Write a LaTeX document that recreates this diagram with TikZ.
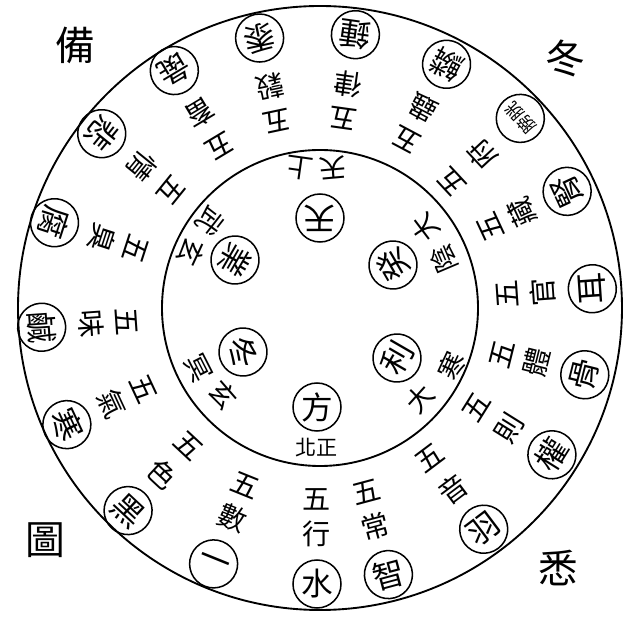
\documentclass[tikz,border=0pt]{standalone}
\usepackage{fontspec}
\newfontfamily\cjk{Noto Sans CJK TC}
\usetikzlibrary{positioning}

\begin{document}
\begin{tikzpicture}[
    x=0.03cm, y=0.03cm,
    ring/.style={line width=1.6pt},
    ch/.style={font=\cjk\fontsize{24}{24}\selectfont, inner sep=0pt},
    seal/.style={circle, draw, line width=1.3pt, minimum size=1.44cm, inner sep=0pt, font=\cjk\fontsize{27}{27}\selectfont},
    inch/.style={font=\cjk\fontsize{23}{23}\selectfont, inner sep=0pt},
    corner/.style={font=\cjk\fontsize{34}{34}\selectfont, inner sep=0pt}
]
\useasboundingbox (-320,-310) rectangle (310,308);

\draw[ring] (0,0) circle[radius=302];
\draw[ring] (0,0) circle[radius=158];

% four corners
\node[corner] (bei) at (-245,263) {備};
\node[corner] (dong) at (245,250) {冬};
\node[corner] (xi) at (238,-260) {悉};
\node[corner] (tu) at (-275,-232) {圖};

% outer ring
\begin{scope}[shift={(-3,0)}]
\node[ch, rotate=0] (o1a) at (-90:191) {五}; \node[ch, rotate=0] (o1b) at (-90:226) {行}; \node[seal, rotate=0] (o1) at (-90:276) {水};
\node[ch, rotate=15] (o2a) at (-75:191) {五}; \node[ch, rotate=15] (o2b) at (-75:226) {常}; \node[seal, rotate=15] (o2) at (-75:276) {智};
\node[ch, rotate=37] (o3a) at (-53:188) {五}; \node[ch, rotate=37] (o3b) at (-53:227) {音}; \node[seal, rotate=37] (o3) at (-53:277) {羽};
\node[ch, rotate=58] (o4a) at (-32:188) {五}; \node[ch, rotate=58] (o4b) at (-32:227) {則}; \node[seal, rotate=58] (o4) at (-32:277) {權};
\node[ch, rotate=76] (o5a) at (-14:191) {五}; \node[ch, rotate=76] (o5b) at (-14:226) {體}; \node[seal, rotate=76] (o5) at (-14:276) {骨};
\node[ch, rotate=94] (o6a) at (4:191) {五}; \node[ch, rotate=94] (o6b) at (4:226) {官}; \node[seal, rotate=94] (o6) at (4:276) {耳};
\node[ch, rotate=115] (o7a) at (25:191) {五}; \node[ch, rotate=115] (o7b) at (25:226) {藏}; \node[seal, rotate=115] (o7) at (25:276) {腎};
\node[ch, rotate=133] (o8a) at (43:184) {五}; \node[ch, rotate=133] (o8b) at (43:225) {府};
\node[seal, rotate=133, font=\cjk\fontsize{15}{15}\selectfont] (o8) at (43:278) {膀胱};
\node[ch, rotate=152] (o9a) at (62:191) {五}; \node[ch, rotate=152] (o9b) at (62:226) {蟲}; \node[seal, rotate=152] (o9) at (62:276) {鱗};
\node[ch, rotate=172] (o10a) at (82:191) {五}; \node[ch, rotate=172] (o10b) at (82:226) {律}; \node[seal, rotate=172] (o10) at (82:276) {鍾};
\node[ch, rotate=192] (o11a) at (102:191) {五}; \node[ch, rotate=192] (o11b) at (102:226) {穀}; \node[seal, rotate=192] (o11) at (102:276) {黍};
\node[ch, rotate=211] (o12a) at (121:189) {五}; \node[ch, rotate=211] (o12b) at (121:227) {畜}; \node[seal, rotate=211] (o12) at (121:277) {彘};
\node[ch, rotate=231] (o13a) at (141:187) {五}; \node[ch, rotate=231] (o13b) at (141:226) {情}; \node[seal, rotate=231] (o13) at (141:277) {悲};
\node[ch, rotate=252] (o14a) at (162:191) {五}; \node[ch, rotate=252] (o14b) at (162:226) {臭}; \node[seal, rotate=252] (o14) at (162:276) {腐};
\node[ch, rotate=274] (o15a) at (184:191) {五}; \node[ch, rotate=274] (o15b) at (184:226) {味}; \node[seal, rotate=274] (o15) at (184:276) {鹹};
\node[ch, rotate=295] (o16a) at (205:191) {五}; \node[ch, rotate=295] (o16b) at (205:226) {氣}; \node[seal, rotate=295] (o16) at (205:276) {寒};
\node[ch, rotate=317] (o17a) at (227:188) {五}; \node[ch, rotate=317] (o17b) at (227:227) {色}; \node[seal, rotate=317] (o17) at (227:277) {黑};
\node[ch, rotate=338] (o18a) at (248:191) {五}; \node[ch, rotate=338] (o18b) at (248:226) {數}; \node[seal, rotate=338] (o18) at (248:276) {一};
\end{scope}

% inner circle
\node[seal, rotate=180] (tian) at (0,90) {天};
\node[seal, rotate=120] (gui) at (73,43) {癸};
\node[seal, rotate=60] (li) at (77,-50) {利};
\node[seal] (fang) at (-3,-99) {方};
\node[seal, rotate=300] (dongc) at (-77,-44) {冬};
\node[seal, rotate=240] (ye) at (-85,48) {業};

\node[inch, below=0.2cm of fang, font=\cjk\fontsize{18}{18}\selectfont] (beizheng) {北正};
\node[inch, rotate=172] (i1a) at (-20,140) {上};
\node[inch, rotate=185] (i1b) at (13,140) {天};
\node[inch, rotate=127] (i2a) at (105,80) {大};
\node[inch, rotate=113] (i2b) at (124,49) {陰};
\node[inch, rotate=65] (i3a) at (132,-58) {寒};
\node[inch, rotate=48] (i3b) at (100,-91) {大};
\node[inch, rotate=311] (i4a) at (-97,-87) {玄};
\node[inch, rotate=297] (i4b) at (-122,-60) {冥};
\node[inch, rotate=245] (i5a) at (-129,56) {玄};
\node[inch, rotate=232] (i5b) at (-110,87) {武};

\end{tikzpicture}
\end{document}
